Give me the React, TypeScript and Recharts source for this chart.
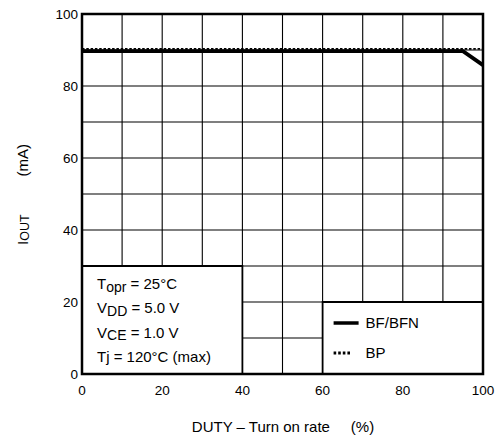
import React from 'react';
import { LineChart, Line, XAxis, YAxis, CartesianGrid, ReferenceArea } from 'recharts';

// BF/BFN curve: flat, then a short drop near 100 %
const dutyBF = [0, 95, 100];
const ioutBF = [89.7, 89.7, 85.8];
// BP curve: flat all the way
const dutyBP = [0, 100];
const ioutBP = [90.3, 90.3];

const gridTicks = [0, 10, 20, 30, 40, 50, 60, 70, 80, 90, 100];

const conditions = [
  { main: 'T', sub: 'opr', rest: ' = 25°C' },
  { main: 'V', sub: 'DD', rest: ' = 5.0 V' },
  { main: 'V', sub: 'CE', rest: ' = 1.0 V' },
  { main: 'Tj', sub: '', rest: ' = 120°C (max)' },
];

const legendItems = [
  { name: 'BF/BFN', dash: undefined as string | undefined, width: 3.5 },
  { name: 'BP', dash: '2.6 2', width: 3 },
];

const bfData = dutyBF.map((d, i) => ({ duty: d, iout: ioutBF[i] }));
const bpData = dutyBP.map((d, i) => ({ duty: d, iout: ioutBP[i] }));

const FONT = '"Liberation Sans", Arial, Helvetica, sans-serif';

const ConditionText = (props: any) => {
  const { x, y } = props.viewBox;
  return (
    <g fontFamily={FONT} fontSize={15} fill="#000" style={{ whiteSpace: 'pre' }}>
      {conditions.map((c, i) => (
        <text key={i} x={x + 15} y={y + 23 + i * 24.3}>
          {c.main}
          {c.sub ? (
            <tspan dy={2.5} fontSize={14}>{c.sub}</tspan>
          ) : null}
          <tspan dy={c.sub ? -2.5 : 0}>{c.rest}</tspan>
        </text>
      ))}
    </g>
  );
};

const LegendBox = (props: any) => {
  const { x, y } = props.viewBox;
  return (
    <g fontFamily={FONT} fontSize={15} fill="#000">
      {legendItems.map((it, i) => (
        <g key={it.name}>
          <line
            x1={x + 11}
            x2={x + (it.dash ? 29 : 36)}
            y1={y + 21 + i * 30}
            y2={y + 21 + i * 30}
            stroke="#000"
            strokeWidth={it.width}
            strokeDasharray={it.dash}
          />
          <text x={x + 43} y={y + 26 + i * 30}>{it.name}</text>
        </g>
      ))}
    </g>
  );
};

const YTitle = () => (
  <g fontFamily={FONT} fill="#000">
    <text transform="rotate(-90)" x={-245} y={28} fontSize={15}>
      I<tspan fontSize={12.5} dy={0.5}>OUT</tspan>
    </text>
    <text transform="rotate(-90)" x={-144} y={28} fontSize={15} textAnchor="end">
      (mA)
    </text>
  </g>
);

const XTitle = () => (
  <text
    x={283}
    y={432}
    fontFamily={FONT}
    fontSize={15}
    fill="#000"
    textAnchor="middle"
    style={{ whiteSpace: 'pre' }}
  >
    {'DUTY – Turn on rate     (%)'}
  </text>
);

const showEvery20 = (v: number) => (v % 20 === 0 ? String(v) : '');

export default function App() {
  return (
    <div style={{ position: 'absolute', left: 0, top: 0, width: 497, height: 440, background: '#fff' }}>
      <LineChart width={497} height={440} margin={{ top: 14, right: 14, bottom: 0, left: 0 }}>
        <CartesianGrid stroke="#000" strokeWidth={1.1} />
        <XAxis
          type="number"
          dataKey="duty"
          domain={[0, 100]}
          ticks={gridTicks}
          tickFormatter={showEvery20}
          height={66}
          tickSize={0}
          tickMargin={11}
          axisLine={false}
          tickLine={false}
          tick={{ fill: '#000', fontSize: 13.5, fontFamily: FONT }}
          label={{ content: () => <XTitle /> }}
        />
        <YAxis
          type="number"
          dataKey="iout"
          domain={[0, 100]}
          ticks={gridTicks}
          tickFormatter={showEvery20}
          width={82}
          tickSize={0}
          tickMargin={4}
          axisLine={false}
          tickLine={false}
          tick={{ fill: '#000', fontSize: 13.5, fontFamily: FONT }}
          label={{ content: () => <YTitle /> }}
        />
        <ReferenceArea
          x1={0}
          x2={40}
          y1={0}
          y2={30}
          fill="#fff"
          fillOpacity={1}
          stroke="#000"
          strokeWidth={1.8}
          label={{ content: (p: any) => <ConditionText {...p} /> }}
        />
        <ReferenceArea
          x1={60}
          x2={100}
          y1={0}
          y2={20}
          fill="#fff"
          fillOpacity={1}
          stroke="#000"
          strokeWidth={1.8}
          label={{ content: (p: any) => <LegendBox {...p} /> }}
        />
        <Line
          data={bpData}
          dataKey="iout"
          type="linear"
          stroke="#000"
          strokeWidth={1.6}
          strokeDasharray="2.5 1.8"
          dot={false}
          activeDot={false}
          isAnimationActive={false}
        />
        <Line
          data={bfData}
          dataKey="iout"
          type="linear"
          stroke="#000"
          strokeWidth={3.8}
          dot={false}
          activeDot={false}
          isAnimationActive={false}
        />
        <ReferenceArea
          x1={0}
          x2={100}
          y1={0}
          y2={100}
          fill="none"
          stroke="#000"
          strokeWidth={2.5}
        />
      </LineChart>
    </div>
  );
}
